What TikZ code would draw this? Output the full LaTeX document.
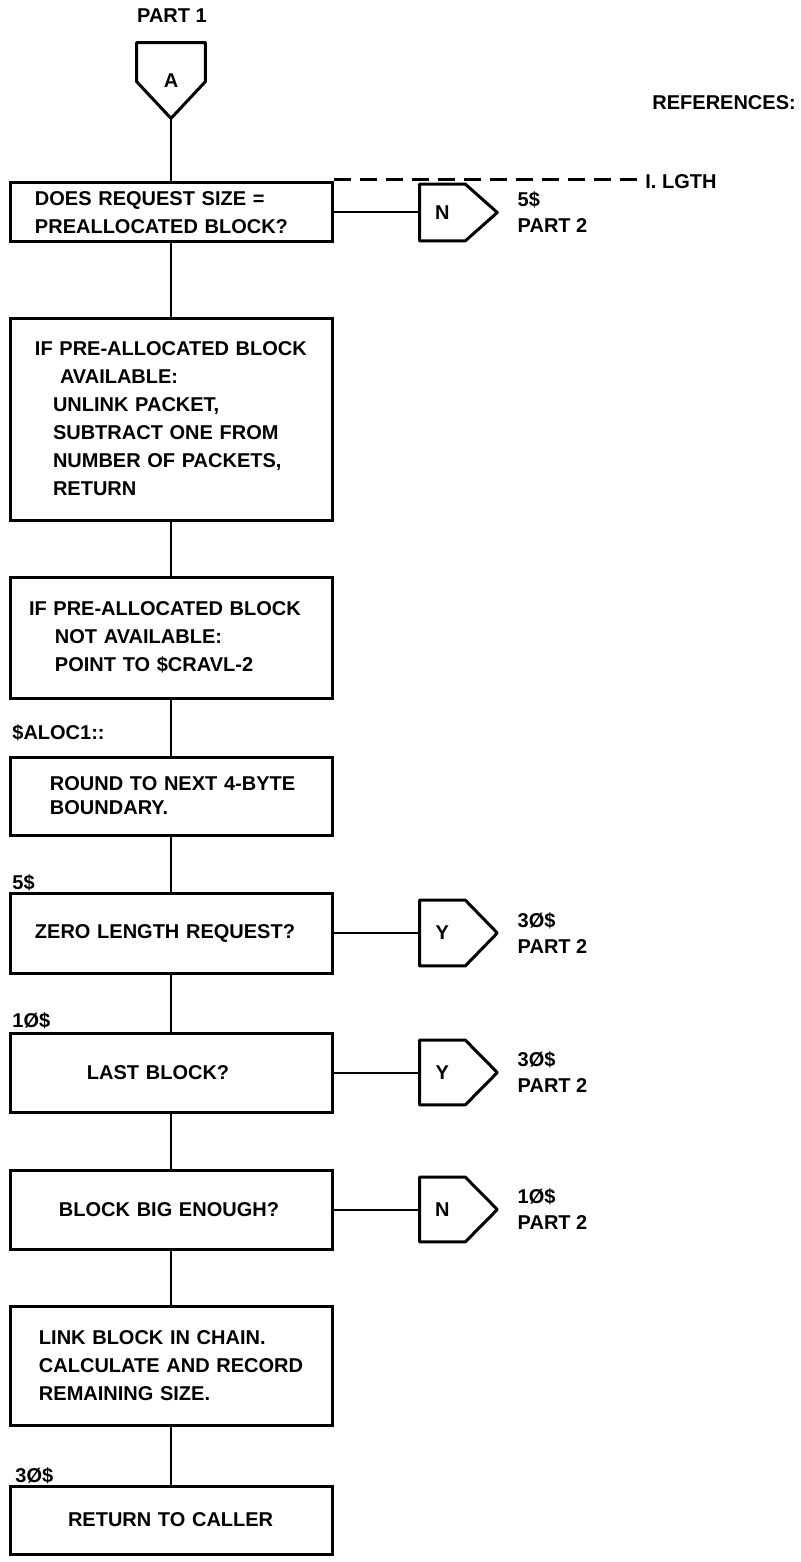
\documentclass[tikz,border=0pt]{standalone}
\usepackage{fontspec}
\setmainfont{Liberation Sans}
\usepackage{tikz}
\usetikzlibrary{calc,positioning}
\tikzset{
  flowbox/.style={draw,rectangle,line width=1.5pt,inner xsep=0pt,inner ysep=0pt,
    text width=161pt,align=left,font=\bfseries\fontsize{10}{14}\selectfont},
  flowline/.style={line width=1pt},
  offpage/.style={line width=1.5pt,line join=round},
  jump/.style={inner sep=0pt,minimum width=22.5pt,minimum height=32.5pt,font=\bfseries\fontsize{10}{12}\selectfont},
  lbl/.style={inner sep=0pt,text height=7.2pt,text depth=0pt,font=\bfseries\fontsize{10}{12}\selectfont},
  refline/.style={line width=1.3pt,dash pattern=on 8.5pt off 4.5pt}
}

\begin{document}
\begin{tikzpicture}[x=0.5pt,y=-0.5pt]
  \useasboundingbox (0,0) rectangle (801,1562);

  % entry connector
  \node[lbl] (part1) at (172,15) {PART 1};
  \node[jump,minimum width=34pt,minimum height=37.5pt] (nA) at (171,80.5) {A};
  \draw[offpage] (nA.north west) -- (nA.north east) -- ($(nA.north east)+(0,39)$)
    -- (nA.south) -- ($(nA.north west)+(0,39)$) -- cycle;

  % references
  \node[lbl,anchor=west] (refs) at (652,102) {REFERENCES:};
  \node[lbl,anchor=west] (lgth) at (645,181) {I. LGTH};

  % main column
  \node[flowbox,minimum height=29.5pt] (b1) at (171,212.5)
    {\hspace*{12.5pt}DOES REQUEST SIZE =\\\hspace*{12.5pt}PREALLOCATED BLOCK?};
  \node[flowbox,minimum height=101pt] (b2) at (171,419)
    {\hspace*{12.5pt}IF PRE-ALLOCATED BLOCK\\
     \hspace*{25pt}AVAILABLE:\\
     \hspace*{21.5pt}UNLINK PACKET,\\
     \hspace*{21.5pt}SUBTRACT ONE FROM\\
     \hspace*{21.5pt}NUMBER OF PACKETS,\\
     \hspace*{21.5pt}RETURN};
  \node[flowbox,minimum height=60.5pt] (b3) at (171,637.5)
    {\hspace*{9.5pt}IF PRE-ALLOCATED BLOCK\\
     \hspace*{22.5pt}NOT AVAILABLE:\\
     \hspace*{22.5pt}POINT TO \$CRAVL-2};
  \node[flowbox,minimum height=39pt,font=\bfseries\fontsize{10}{12}\selectfont] (b4) at (171,796)
    {\hspace*{20pt}ROUND TO NEXT 4-BYTE\\\hspace*{20pt}BOUNDARY.};
  \node[flowbox,minimum height=40pt] (b5) at (171,933)
    {\hspace*{12.5pt}ZERO LENGTH REQUEST?};
  \node[flowbox,minimum height=39.5pt] (b6) at (171,1072.5)
    {\hspace*{38.5pt}LAST BLOCK?};
  \node[flowbox,minimum height=39.5pt] (b7) at (171,1209.5)
    {\hspace*{24.5pt}BLOCK BIG ENOUGH?};
  \node[flowbox,minimum height=59.5pt] (b8) at (171,1365.5)
    {\hspace*{14.5pt}LINK BLOCK IN CHAIN.\\
     \hspace*{14.5pt}CALCULATE AND RECORD\\
     \hspace*{14.5pt}REMAINING SIZE.};
  \node[flowbox,minimum height=34pt] (b9) at (171,1520)
    {\hspace*{29pt}RETURN TO CALLER};

  % entry labels
  \node[lbl,anchor=west] (aloc) at (12,732) {\$ALOC1::};
  \node[lbl,anchor=west] (l5) at (12,882) {5\$};
  \node[lbl,anchor=west] (l10) at (12,1020) {1Ø\$};
  \node[lbl,anchor=west] (l30) at (15,1475) {3Ø\$};

  \draw[flowline] (nA.south) -- (b1);
  \foreach \a/\b in {b1/b2,b2/b3,b3/b4,b4/b5,b5/b6,b6/b7,b7/b8,b8/b9}{
    \draw[flowline] (\a) -- (\b);
  }

  \draw[refline] ($(b1.north east)+(0,-2)$) -- ($(b1.north east -| lgth.west)+(0,-2)$);

  % exits to part 2
  \foreach \b/\j/\lab/\tgt/\h in {b1/jN1/N/5\$/28pt,b5/jY1/Y/3Ø\$/32.5pt,b6/jY2/Y/3Ø\$/32pt,b7/jN2/N/1Ø\$/32pt}{
    \node[jump,minimum height=\h,right=43pt of \b] (\j) {\lab};
    \draw[offpage] (\j.north west) -- (\j.north east) -- ($(\j.east)+(32,0)$)
      -- (\j.south east) -- (\j.south west) -- cycle;
    \draw[flowline] (\b) -- (\j);
    \node[lbl,anchor=west] (\j-t) at ($(\j.east)+(52,-13)$) {\tgt};
    \node[lbl,anchor=west] (\j-p) at ($(\j.east)+(52,13)$) {PART 2};
  }
\end{tikzpicture}
\end{document}
